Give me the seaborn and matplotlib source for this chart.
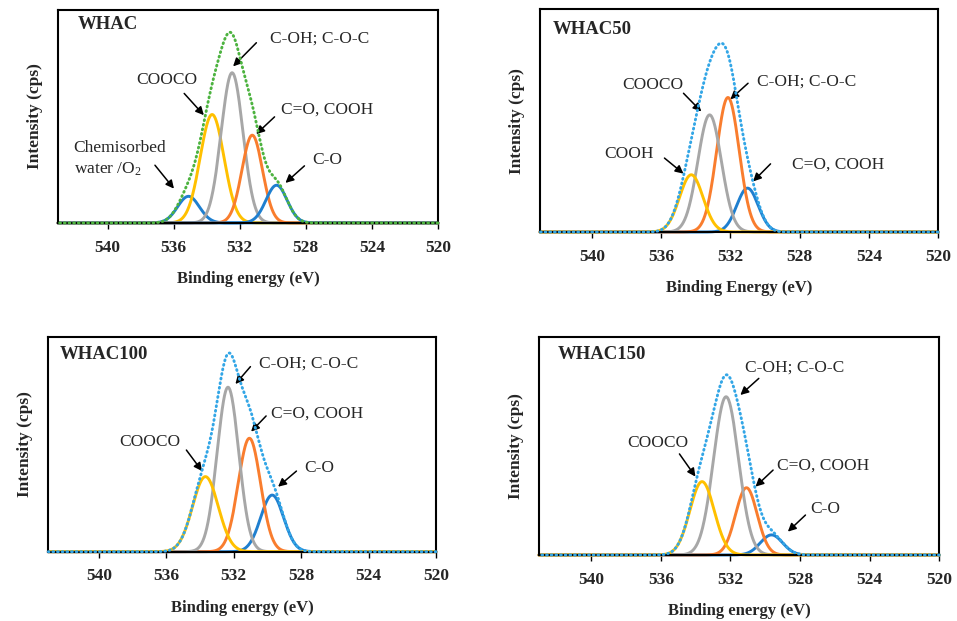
import numpy as np
import pandas as pd
import matplotlib
matplotlib.use("Agg")
import matplotlib.pyplot as plt
import seaborn as sns

# ---------------------------------------------------------------
# O 1s peak-fit parameters for each sample:
# centre (eV), height (normalised counts), Gaussian sigma (eV)
# ---------------------------------------------------------------
energy_ticks = [540, 536, 532, 528, 524, 520]

whac_labels = ["Chemisorbed water /O2", "COOCO", "C-OH; C-O-C", "C=O, COOH", "C-O"]
whac_centres = [535.10, 533.67, 532.46, 531.24, 529.77]
whac_heights = [0.125, 0.509, 0.705, 0.412, 0.177]
whac_sigmas = [0.66, 0.72, 0.66, 0.62, 0.64]

whac50_labels = ["C=O, COOH", "C-OH; C-O-C", "COOCO", "COOH"]
whac50_centres = [531.01, 532.14, 533.20, 534.26]
whac50_heights = [0.197, 0.604, 0.526, 0.257]
whac50_sigmas = [0.62, 0.65, 0.68, 0.68]

whac100_labels = ["C-O", "C=O, COOH", "C-OH; C-O-C", "COOCO"]
whac100_centres = [529.72, 531.07, 532.34, 533.68]
whac100_heights = [0.264, 0.529, 0.767, 0.350]
whac100_sigmas = [0.68, 0.66, 0.64, 0.76]

whac150_labels = ["C-O", "C=O, COOH", "C-OH; C-O-C", "COOCO"]
whac150_centres = [529.64, 531.08, 532.25, 533.63]
whac150_heights = [0.092, 0.308, 0.725, 0.336]
whac150_sigmas = [0.64, 0.62, 0.72, 0.70]

BLUE = "#1f7fcf"
ORANGE = "#f97d2e"
GRAY = "#a7a7a7"
YELLOW = "#ffc000"
GREEN = "#4db340"
SKY = "#33a6e6"

sns.set_style("ticks")
plt.rcParams["font.family"] = ["Liberation Serif", "DejaVu Serif"]
plt.rcParams["mathtext.fontset"] = "custom"
plt.rcParams["mathtext.rm"] = "Liberation Serif"
plt.rcParams["mathtext.it"] = "Liberation Serif:italic"

energy = np.linspace(520, 543, 1200)


def gaussian(x, centre, height, sigma):
    return height * np.exp(-((x - centre) ** 2) / (2 * sigma ** 2))


def draw_panel(ax, title, xlabel, labels, centres, heights, sigmas, colours,
               envelope_colour, notes, title_pos):
    frames = []
    for lab, c, h, s in zip(labels, centres, heights, sigmas):
        frames.append(pd.DataFrame({"energy": energy,
                                    "intensity": gaussian(energy, c, h, s),
                                    "component": lab}))
    df = pd.concat(frames, ignore_index=True)
    sns.lineplot(data=df, x="energy", y="intensity", hue="component",
                 hue_order=labels, palette=dict(zip(labels, colours)),
                 lw=2.1, legend=False, ax=ax, clip_on=False, sort=False)
    # fitted envelope = sum of all components
    envelope = df.groupby("energy", sort=True)["intensity"].sum().reset_index()
    sns.lineplot(data=envelope, x="energy", y="intensity", ax=ax,
                 color=envelope_colour, lw=2.1, linestyle=(0, (0.3, 1.3)),
                 dash_capstyle="round", clip_on=False, zorder=5)

    ax.set_xlim(543, 520)
    ax.set_ylim(0, 1.0)
    ax.set_xticks(energy_ticks)
    ax.set_xticklabels([str(t) for t in energy_ticks], fontweight="bold",
                       fontsize=12.5)
    ax.set_yticks([])
    ax.tick_params(axis="x", direction="out", length=4, width=1,
                   color="black", pad=8)
    for sp in ax.spines.values():
        sp.set_visible(True)
        sp.set_color("black")
        sp.set_linewidth(1.5)
    ax.set_xlabel(xlabel, fontweight="bold", fontsize=12, labelpad=11)
    ax.set_ylabel("Intensity (cps)", fontweight="bold", fontsize=12.5,
                  labelpad=11)
    ax.text(title_pos[0], title_pos[1], title, transform=ax.transAxes,
            fontweight="bold", fontsize=13.5, ha="left", va="center")

    for text, tx, ty, ha, tail, head in notes:
        ax.text(tx, ty, text, fontsize=12.5, ha=ha, va="center",
                linespacing=1.3)
        ax.annotate("", xy=head, xytext=tail,
                    arrowprops=dict(arrowstyle="-|>", color="black", lw=1.1,
                                    mutation_scale=12, shrinkA=0, shrinkB=0))


fig = plt.figure(figsize=(9.57, 6.21), dpi=100)
ax1 = fig.add_axes([0.0606, 0.641, 0.397, 0.343])
ax2 = fig.add_axes([0.5643, 0.6264, 0.4159, 0.3586])
ax3 = fig.add_axes([0.0505, 0.1116, 0.4051, 0.3453])
ax4 = fig.add_axes([0.5632, 0.1063, 0.4183, 0.3515])

draw_panel(ax1, "WHAC", "Binding energy (eV)",
           whac_labels, whac_centres, whac_heights, whac_sigmas,
           [BLUE, YELLOW, GRAY, ORANGE, BLUE], GREEN,
           [("C-OH; C-O-C", 530.19, 0.867, "left", (530.99, 0.846), (532.40, 0.735)),
            ("COOCO", 536.42, 0.671, "center", (535.36, 0.608), (534.17, 0.506)),
            ("C=O, COOH", 529.49, 0.530, "left", (529.89, 0.498), (531.00, 0.417)),
            ("C-O", 527.58, 0.295, "left", (528.08, 0.268), (529.23, 0.188)),
            ("Chemisorbed\nwater /O$_2$", 542.05, 0.300, "left",
             (537.13, 0.271), (535.98, 0.161))],
           (0.051, 0.93))

draw_panel(ax2, "WHAC50", "Binding Energy (eV)",
           whac50_labels, whac50_centres, whac50_heights, whac50_sigmas,
           [BLUE, ORANGE, GRAY, YELLOW], SKY,
           [("COOCO", 536.48, 0.661, "center", (534.71, 0.623), (533.68, 0.541)),
            ("C-OH; C-O-C", 530.45, 0.676, "left", (530.98, 0.668), (532.00, 0.596)),
            ("COOH", 537.84, 0.351, "center", (535.81, 0.332), (534.71, 0.262)),
            ("C=O, COOH", 528.46, 0.302, "left", (529.68, 0.306), (530.69, 0.227))],
           (0.033, 0.91))

draw_panel(ax3, "WHAC100", "Binding energy (eV)",
           whac100_labels, whac100_centres, whac100_heights, whac100_sigmas,
           [BLUE, ORANGE, GRAY, YELLOW], SKY,
           [("C-OH; C-O-C", 530.51, 0.879, "left", (531.01, 0.863), (531.90, 0.782)),
            ("C=O, COOH", 529.78, 0.645, "left", (530.08, 0.633), (530.97, 0.560)),
            ("COOCO", 536.95, 0.513, "center", (534.81, 0.474), (533.88, 0.376)),
            ("C-O", 527.84, 0.389, "left", (528.28, 0.376), (529.37, 0.303))],
           (0.030, 0.918))

draw_panel(ax4, "WHAC150", "Binding energy (eV)",
           whac150_labels, whac150_centres, whac150_heights, whac150_sigmas,
           [BLUE, ORANGE, GRAY, YELLOW], SKY,
           [("C-OH; C-O-C", 531.14, 0.860, "left", (530.37, 0.809), (531.43, 0.733)),
            ("COOCO", 536.16, 0.515, "center", (534.93, 0.463), (534.01, 0.359)),
            ("C=O, COOH", 529.32, 0.409, "left", (529.55, 0.389), (530.56, 0.313)),
            ("C-O", 527.40, 0.209, "left", (527.69, 0.183), (528.70, 0.107))],
           (0.046, 0.92))

fig.savefig("out.png", dpi=100, facecolor="white")
